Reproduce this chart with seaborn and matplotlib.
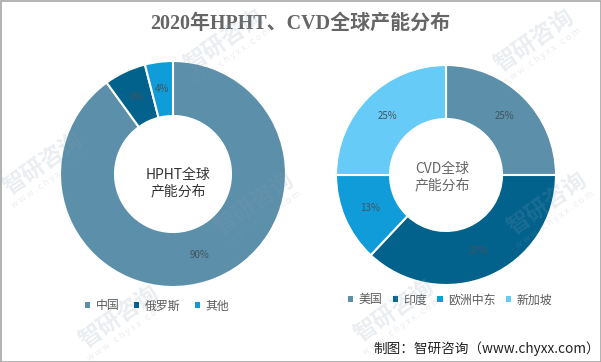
import matplotlib
matplotlib.use("Agg")
import matplotlib.pyplot as plt
from matplotlib.patches import Rectangle
import seaborn as sns

sns.set_theme(style="white")
CJK = ['Noto Sans CJK SC', 'DejaVu Sans']
plt.rcParams['font.family'] = CJK

W, H = 601, 362
title = "2020年HPHT、CVD全球产能分布"
credit = "制图：智研咨询（www.chyxx.com）"

hpht_labels = ["中国", "俄罗斯", "其他"]
hpht_values = [90, 6, 4]
hpht_center = "HPHT全球\n产能分布"

cvd_labels = ["美国", "印度", "欧洲中东", "新加坡"]
cvd_values = [25, 37, 13, 25]
cvd_center = "CVD全球\n产能分布"

palette = sns.color_palette(["#5B8FAA", "#02628C", "#0F9CD8", "#66CBF6"])

fig = plt.figure(figsize=(W / 100, H / 100), dpi=100, facecolor="white")


def donut(values, labels, cx, cy, r, r_in, center, center_xy, center_color, legend_xy, colspace):
    ax = fig.add_axes([(cx - r) / W, 1 - (cy + r) / H, 2 * r / W, 2 * r / H])
    wedges, _, autotexts = ax.pie(
        values, colors=palette[:len(values)], startangle=90, counterclock=False, radius=1,
        autopct="%.0f%%", pctdistance=(1 + r_in / r) / 2,
        wedgeprops=dict(width=1 - r_in / r, edgecolor="white", linewidth=1.5),
        textprops=dict(fontsize=7, color="#44535e"))
    ax.set_xlim(-1, 1)
    ax.set_ylim(-1, 1)
    ax.axis("off")
    for w in wedges:
        w.set_clip_on(False)
    fig.text(center_xy[0] / W, 1 - center_xy[1] / H, center, ha="center", va="center",
             fontsize=10, color=center_color, linespacing=1.25)
    leg = fig.legend(wedges, labels, loc="center left",
                     bbox_to_anchor=(legend_xy[0] / W, 1 - legend_xy[1] / H),
                     ncol=len(labels), frameon=False, fontsize=8.6, labelcolor="#595959",
                     handlelength=0.45, handleheight=0.45, handletextpad=0.45,
                     columnspacing=colspace, borderaxespad=0, borderpad=0)
    for h in leg.legend_handles:
        h.set_linewidth(0)
    return ax


donut(hpht_values, hpht_labels, 173, 174, 113, 58, hpht_center, (178, 183), "#333333", (85, 306), 1.2)
donut(cvd_values, cvd_labels, 446, 175, 110, 56, cvd_center, (442, 177), "#666666", (348, 300), 0.85)

fig.text(300 / W, 1 - 24 / H, title, ha="center", va="center", fontsize=14.4, fontweight="bold",
         color="#666666", family=['Liberation Serif', 'Noto Sans CJK SC'])
fig.text(373 / W, 1 - 349 / H, credit, ha="left", va="center", fontsize=9.8, color="#222222")

# faint diagonal watermarks, kept inside the frame
marks = [(225, 42), (535, 42), (44, 165), (255, 205), (548, 205), (120, 318), (395, 312)]
for x, y in marks:
    fig.text(x / W, 1 - y / H, "智研咨询", ha="center", va="center", rotation=35, fontsize=16.5,
             color="#8a9fb5", alpha=0.18, fontweight="bold", zorder=20, rotation_mode="anchor")
    fig.text((x + 7) / W, 1 - (y + 15) / H, "w w w . c h y x x . c o m", ha="center", va="center",
             rotation=35, fontsize=6.5, color="#8a9fb5", alpha=0.18, zorder=20, rotation_mode="anchor")

fig.add_artist(Rectangle((0.5 / W, 0.5 / H), (W - 1) / W, (H - 1) / H, transform=fig.transFigure,
                         fill=False, edgecolor="#a6a6a6", linewidth=1.2))
fig.savefig("out.png", dpi=100, facecolor="white")
